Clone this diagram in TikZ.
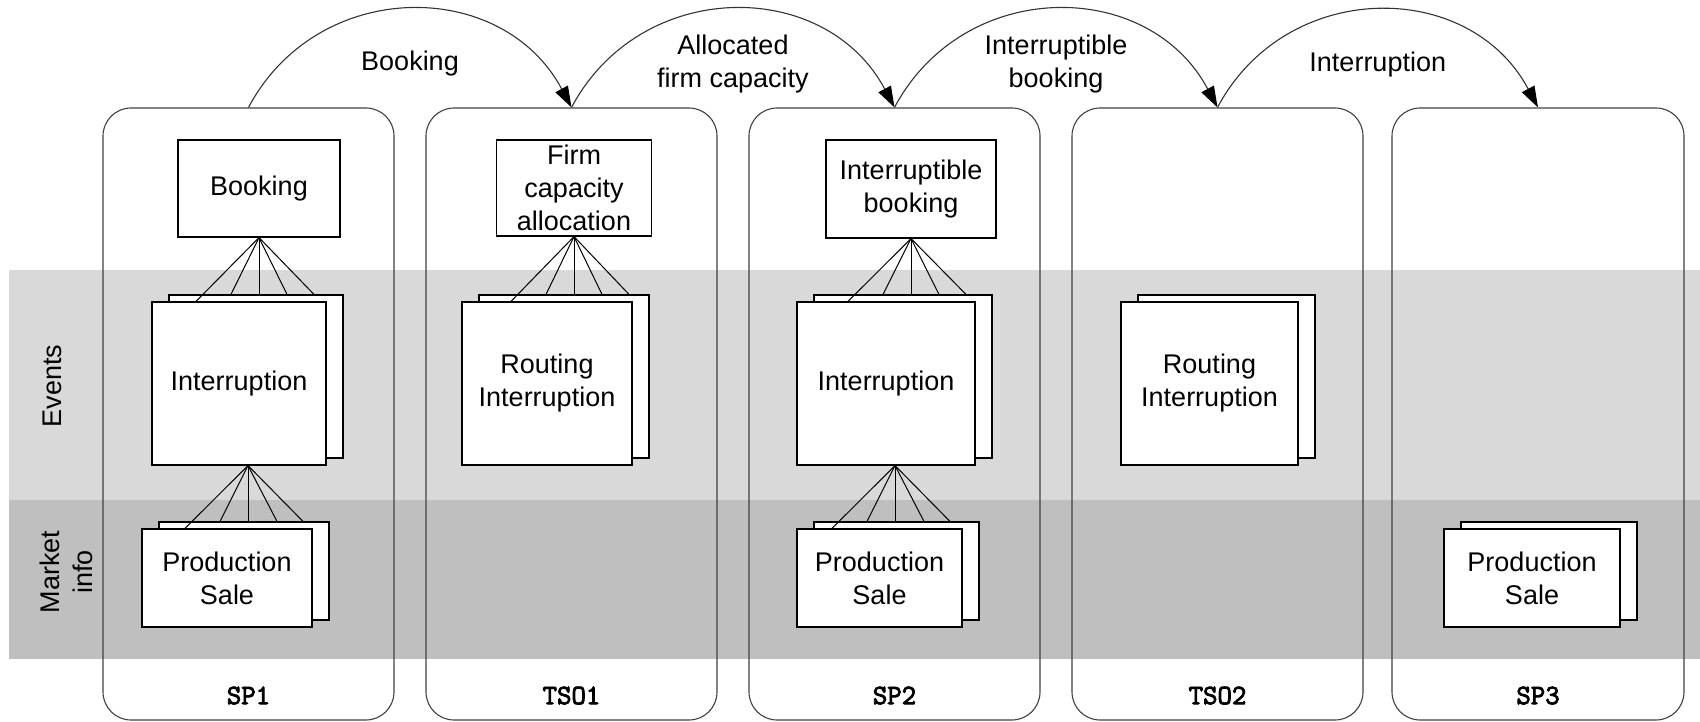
\documentclass[tikz,border=0pt]{standalone}
\usepackage{xcolor}
\usepackage{fontspec}
\setmainfont{Liberation Sans}
\newfontfamily\lanefont[FakeBold=3]{Latin Modern Mono}
\usepackage{tikz}
\usetikzlibrary{arrows.meta,calc}
\definecolor{evband}{HTML}{D9D9D9}
\definecolor{mkband}{HTML}{BFBFBF}
\definecolor{laneline}{HTML}{404040}

\tikzset{
  lane/.style={draw=laneline,line width=1.1pt,rounded corners=28pt,minimum width=291pt,minimum height=612pt,inner sep=0pt},
  actbox/.style={draw,fill=white,line width=1.2pt,align=center,inner sep=0pt,font=\fontsize{27}{33}\selectfont},
  lanename/.style={font=\lanefont\fontsize{28}{28}\selectfont},
  flowarc/.style={draw=black!80,line width=1.1pt,-{Triangle[length=21pt,width=14pt,color=black]}},
  fan/.style={line width=1pt},
  txt/.style={align=center,font=\fontsize{27}{33}\selectfont}
}

\begin{document}
  \begin{tikzpicture}[x=1pt,y=1pt]
    \useasboundingbox (0,0) rectangle (1700,721);
    \fill[evband](9,221) rectangle (1700,451);
    \fill[mkband](9,62) rectangle (1700,221);
    \node[txt,rotate=90] (events) at (52,335) {Events};
    \node[txt,rotate=90] (market) at (66,149) {Market\\info};

    % swimlanes
    \node[lane] (sp1) at (248.5,307) {};
    \node[lane] (tso1) at (571.5,307) {};
    \node[lane] (sp2) at (894.5,307) {};
    \node[lane] (tso2) at (1217.5,307) {};
    \node[lane,minimum width=292pt] (sp3) at (1538,307) {};
    \foreach \l/\t in {sp1/SP1,tso1/TSO1,sp2/SP2,tso2/TSO2,sp3/SP3}
      \node[lanename] (\l-name) at ([yshift=25pt]\l.south) {\t};

    % messages between actors
    \draw[flowarc] (sp1.north) to[out=62,in=118,looseness=1.17] node[txt,midway,yshift=-54pt] (msg1) {Booking} (tso1.north);
    \draw[flowarc] (tso1.north) to[out=62,in=118,looseness=1.17] node[txt,midway,yshift=-54pt] (msg2) {Allocated\\firm capacity} (sp2.north);
    \draw[flowarc] (sp2.north) to[out=62,in=118,looseness=1.17] node[txt,midway,yshift=-54pt] (msg3) {Interruptible\\booking} (tso2.north);
    \draw[flowarc] (tso2.north) to[out=62,in=118,looseness=1.17] node[txt,midway,yshift=-54pt] (msg4) {Interruption} (sp3.north);

    \node[actbox,minimum width=162pt,minimum height=97pt] (book) at (259,532.5) {Booking};
    \node[actbox,minimum width=155pt,minimum height=96pt] (firm) at (574,533) {Firm\\capacity\\allocation};
    \node[actbox,minimum width=170pt,minimum height=98pt] (ibook) at (911,532) {Interruptible\\booking};

    % stacked event and market boxes
    \foreach \n/\x/\y/\w/\h/\t in {sp1ev/239/337.5/174/163/Interruption,
        tso1ev/547/337.5/170/163/Routing\\Interruption,
        sp2ev/886/337.5/178/163/Interruption,
        tso2ev/1209.5/337.5/177/163/Routing\\Interruption,
        sp1mk/227/143/170/98/Production\\Sale,
        sp2mk/879.5/143/165/98/Production\\Sale,
        sp3mk/1532/143/176/98/Production\\Sale}{
      \node[actbox,minimum width=\w pt,minimum height=\h pt] (back-\n) at (\x+17,\y+7) {};
      \node[actbox,minimum width=\w pt,minimum height=\h pt] (\n) at (\x,\y) {\t};
    }

    \foreach \a/\b in {book/sp1ev,firm/tso1ev,ibook/sp2ev}{
      \draw[fan] (\a.south) -- ($(\a.south |- \b.north)+(-63,0)$);
      \foreach \d in {-28,0,28,55}
        \draw[fan] (\a.south) -- ($(\a.south |- back-\b.north)+(\d,0)$);
    }
    \foreach \a/\b in {sp1ev/sp1mk,sp2ev/sp2mk}{
      \draw[fan] ($(\a.south)+(9,0)$) -- ($(\a.south |- \b.north)+(-54,0)$);
      \foreach \d in {-19,9,38,64}
        \draw[fan] ($(\a.south)+(9,0)$) -- ($(\a.south |- back-\b.north)+(\d,0)$);
    }
  \end{tikzpicture}
\end{document}
